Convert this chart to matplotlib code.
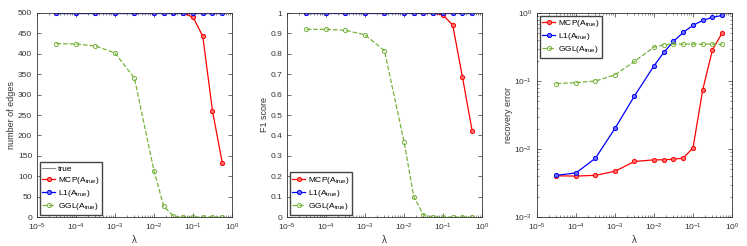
import numpy as np
import matplotlib
matplotlib.use("Agg")
import matplotlib.pyplot as plt

plt.rcParams['font.family'] = ['Liberation Sans', 'DejaVu Sans']
plt.rcParams['font.size'] = 6.5
plt.rcParams['mathtext.fontset'] = 'custom'
plt.rcParams['mathtext.rm'] = 'Liberation Sans'
plt.rcParams['mathtext.it'] = 'Liberation Sans'

# lambda grid
lam = [3.16e-5, 1e-4, 3.16e-4, 1e-3, 3.16e-3, 1e-2, 1.78e-2, 3.16e-2, 5.62e-2, 1e-1, 1.78e-1, 3.16e-1, 5.62e-1]

# number of edges
edges_true = [500] * 13
edges_mcp = [500, 500, 500, 500, 500, 500, 500, 500, 499, 490, 443, 260, 133]
edges_l1 = [500] * 13
edges_ggl = [425, 424, 419, 402, 340, 113, 26, 2, 0, 0, 0, 0, 0]

# F1 score
f1_mcp = [1, 1, 1, 1, 1, 1, 1, 1, 1, 0.99, 0.94, 0.685, 0.42]
f1_l1 = [1] * 13
f1_ggl = [0.92, 0.92, 0.915, 0.893, 0.815, 0.37, 0.1, 0.01, 0, 0, 0, 0, 0]

# recovery error
err_mcp = [0.00403, 0.0040, 0.0041, 0.00471, 0.00655, 0.00693, 0.00693, 0.0071, 0.00733, 0.0104, 0.0748, 0.288, 0.513]
err_l1 = [0.0041, 0.00445, 0.00733, 0.0201, 0.0603, 0.167, 0.263, 0.382, 0.519, 0.658, 0.78, 0.863, 0.924]
err_ggl = [0.0917, 0.0947, 0.1, 0.123, 0.194, 0.315, 0.341, 0.349, 0.349, 0.349, 0.349, 0.349, 0.349]

RED = '#ff0000'
BLUE = '#0000ff'
GREEN = '#77b33c'

lab_mcp = 'MCP(A$_{\\mathrm{true}}$)'
lab_l1 = 'L1(A$_{\\mathrm{true}}$)'
lab_ggl = 'GGL(A$_{\\mathrm{true}}$)'


def draw(ax, mcp, l1, ggl):
    ax.plot(lam, mcp, '-o', color=RED, lw=0.9, ms=3, mfc='#ff7070', mec=RED, mew=0.7, label=lab_mcp)
    ax.plot(lam, l1, '-o', color=BLUE, lw=0.9, ms=3, mfc='#7070ff', mec=BLUE, mew=0.7, label=lab_l1)
    ax.plot(lam, ggl, '--o', color=GREEN, lw=0.9, ms=3, mfc='none', mec=GREEN, mew=0.7, label=lab_ggl)


def style(ax):
    ax.set_xscale('log')
    ax.set_xlim(1e-5, 1)
    ax.set_xticks([1e-5, 1e-4, 1e-3, 1e-2, 1e-1, 1e0])
    ax.tick_params(which='both', direction='in', top=True, right=True, labelsize=6,
                   colors='#333333')
    ax.tick_params(which='major', length=3, width=0.5)
    ax.tick_params(which='minor', length=1.5, width=0.4)
    for s in ax.spines.values():
        s.set_linewidth(0.6)
        s.set_color('#333333')
    ax.set_xlabel('λ', fontsize=7, labelpad=1, color='#333333')


def legend(ax, loc):
    ax.legend(loc=loc, fontsize=6, handlelength=1.6, borderpad=0.3, labelspacing=0.25,
              handletextpad=0.3, fancybox=False, edgecolor='#444444', framealpha=1,
              borderaxespad=0.3)


fig = plt.figure(figsize=(7.47, 2.46), dpi=100)
W, H = 747, 246
lefts = [37, 287, 537]
axw = 195
bottom = H - 217
axh = 217 - 13
axes = [fig.add_axes([l / W, bottom / H, axw / W, axh / H]) for l in lefts]

ax = axes[0]
ax.plot(lam, edges_true, '-', color='#888888', lw=0.8, label='true')
draw(ax, edges_mcp, edges_l1, edges_ggl)
style(ax)
ax.set_ylim(0, 500)
ax.set_yticks(np.arange(0, 501, 50))
ax.set_ylabel('number of edges', fontsize=6.5, labelpad=1, color='#333333')
legend(ax, 'lower left')

ax = axes[1]
draw(ax, f1_mcp, f1_l1, f1_ggl)
style(ax)
ax.set_ylim(0, 1)
ax.set_yticks(np.round(np.arange(0, 1.01, 0.1), 1))
ax.set_yticklabels(['0', '0.1', '0.2', '0.3', '0.4', '0.5', '0.6', '0.7', '0.8', '0.9', '1'])
ax.set_ylabel('F1 score', fontsize=6.5, labelpad=1, color='#333333')
legend(ax, 'lower left')

ax = axes[2]
draw(ax, err_mcp, err_l1, err_ggl)
style(ax)
ax.set_yscale('log')
ax.set_ylim(1e-3, 1)
ax.set_ylabel('recovery error', fontsize=6.5, labelpad=1, color='#333333')
legend(ax, 'upper left')

fig.savefig('out.png', dpi=100)
